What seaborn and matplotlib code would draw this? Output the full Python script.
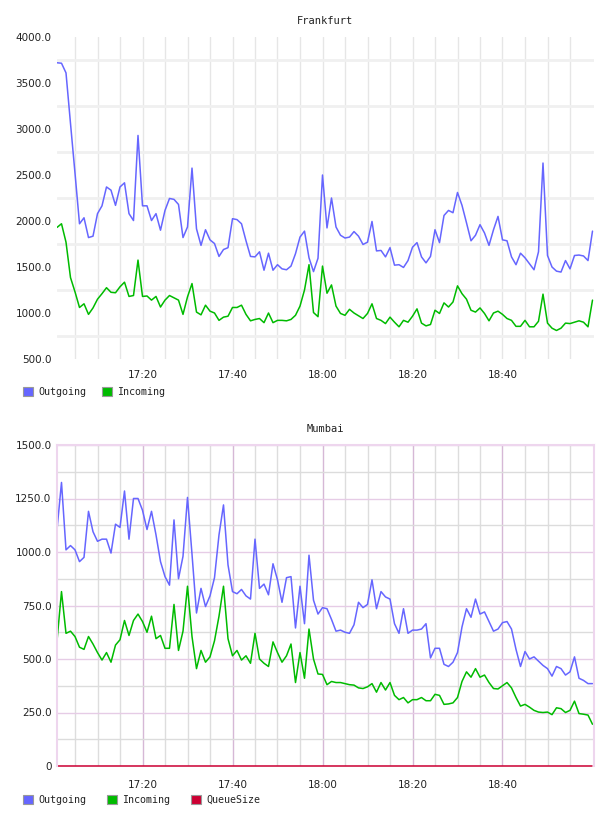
import pandas as pd
import matplotlib
matplotlib.use("Agg")
import matplotlib.pyplot as plt
import matplotlib.dates as mdates
from matplotlib.patches import Patch
from matplotlib.ticker import FixedLocator
import seaborn as sns

# 1. DATA (one sample per minute, 17:01 -> 19:00)
minutes = pd.date_range("2014-01-01 17:01", periods=120, freq="min")

frankfurt_outgoing = [
    3720, 3715, 3610, 3060, 2520, 1970, 2035, 1820, 1835, 2080,
    2165, 2370, 2335, 2170, 2370, 2415, 2080, 2005, 2930, 2165,
    2165, 2005, 2080, 1900, 2115, 2245, 2235, 2180, 1820, 1935,
    2575, 1915, 1735, 1905, 1795, 1755, 1615, 1690, 1710, 2025,
    2015, 1970, 1785, 1615, 1610, 1665, 1465, 1650, 1465, 1525,
    1480, 1470, 1510, 1645, 1825, 1890, 1600, 1450, 1595, 2500,
    1925, 2250, 1935, 1845, 1815, 1825, 1885, 1835, 1745, 1770,
    1995, 1675, 1680, 1610, 1710, 1520, 1525, 1495, 1570, 1715,
    1765, 1610, 1545, 1615, 1905, 1765, 2060, 2115, 2090, 2310,
    2170, 1980, 1785, 1845, 1960, 1870, 1735, 1905, 2050, 1795,
    1785, 1610, 1525, 1650, 1600, 1535, 1470, 1665, 2630, 1625,
    1500, 1455, 1445, 1570, 1480, 1625, 1630, 1620, 1570, 1890,
]
frankfurt_incoming = [
    1930, 1970, 1770, 1385, 1230, 1060, 1100, 985, 1055, 1150,
    1210, 1275, 1225, 1220, 1285, 1335, 1180, 1190, 1575, 1180,
    1185, 1140, 1180, 1065, 1140, 1190, 1165, 1140, 985, 1175,
    1320, 1010, 980, 1085, 1020, 1000, 920, 955, 965, 1060,
    1060, 1085, 985, 915, 930, 940, 895, 1000, 895, 920,
    920, 915, 930, 975, 1075, 1250, 1525, 1005, 960, 1510,
    1215, 1305, 1075, 995, 975, 1040, 1000, 970, 940, 995,
    1100, 940, 920, 885, 955, 900, 850, 920, 900, 965,
    1045, 890, 860, 875, 1030, 995, 1110, 1065, 1120, 1295,
    1210, 1150, 1030, 1010, 1055, 995, 915, 1000, 1020, 985,
    940, 920, 855, 855, 920, 850, 850, 910, 1205, 890,
    835, 810, 835, 890, 885, 900, 915, 900, 850, 1140,
]
mumbai_outgoing = [
    1105, 1325, 1010, 1030, 1010, 955, 975, 1190, 1095, 1050,
    1060, 1060, 995, 1130, 1115, 1285, 1060, 1250, 1250, 1195,
    1105, 1190, 1080, 955, 885, 845, 1150, 875, 980, 1255,
    990, 715, 830, 745, 795, 880, 1080, 1220, 940, 815,
    805, 825, 795, 780, 1060, 830, 850, 800, 945, 870,
    765, 880, 885, 645, 840, 665, 985, 775, 710, 740,
    735, 685, 630, 635, 625, 620, 660, 765, 740, 755,
    870, 735, 815, 790, 780, 665, 620, 735, 620, 635,
    635, 640, 665, 505, 550, 550, 475, 465, 485, 530,
    650, 735, 695, 780, 710, 720, 675, 630, 640, 670,
    675, 640, 545, 465, 535, 500, 510, 490, 470, 455,
    420, 465, 455, 425, 440, 510, 410, 400, 385, 385,
]
mumbai_incoming = [
    585, 815, 620, 630, 605, 555, 545, 605, 570, 530,
    495, 530, 485, 565, 590, 680, 610, 680, 710, 675,
    625, 700, 595, 610, 550, 550, 755, 540, 630, 840,
    605, 455, 540, 485, 510, 585, 700, 840, 595, 515,
    540, 495, 515, 480, 620, 500, 480, 465, 580, 530,
    485, 515, 570, 390, 530, 410, 640, 500, 430, 428,
    380, 395, 390, 390, 385, 380, 378, 365, 362, 370,
    385, 345, 390, 355, 390, 330, 310, 320, 295, 310,
    310, 320, 305, 305, 335, 330, 288, 290, 295, 320,
    395, 440, 415, 455, 415, 425, 390, 362, 360, 375,
    390, 365, 320, 280, 288, 275, 260, 252, 250, 252,
    240, 272, 268, 250, 260, 303, 245, 242, 238, 195,
]
mumbai_queuesize = [0] * 120

time_ticks = pd.to_datetime(["2014-01-01 17:20", "2014-01-01 17:40", "2014-01-01 18:00",
                             "2014-01-01 18:20", "2014-01-01 18:40"])
time_grid = pd.date_range("2014-01-01 17:05", "2014-01-01 18:55", freq="5min")
frankfurt_yticks = [500, 1000, 1500, 2000, 2500, 3000, 3500, 4000]
frankfurt_ygrid = [750, 1250, 1750, 2250, 2750, 3250, 3750]
mumbai_yticks = [0, 250, 500, 750, 1000, 1250, 1500]
mumbai_ygrid_minor = [125, 375, 625, 875, 1125, 1375]

series_colors = {"Outgoing": "#6666ff", "Incoming": "#00bb00", "QueueSize": "#cc0033"}

sns.set_style("white")
plt.rcParams["font.family"] = ["DejaVu Sans"]
MONO = "DejaVu Sans Mono"
TXT = "#222222"


def tick_label(v):
    return "0" if v == 0 else f"{v:.1f}"


def dibujar_panel(ax, datos, titulo, yticks, ylim):
    df = pd.DataFrame({"time": minutes, **datos})
    largo = df.melt(id_vars="time", var_name="series", value_name="value")
    orden = list(datos.keys())
    sns.lineplot(data=largo, x="time", y="value", hue="series", hue_order=orden,
                 palette=series_colors, legend=False, estimator=None,
                 linewidth=1.1, ax=ax)
    ax.set_xlim(minutes[0], minutes[-1] + pd.Timedelta(seconds=20))
    ax.set_ylim(*ylim)
    ax.set_xlabel("")
    ax.set_ylabel("")
    ax.set_xticks(time_ticks)
    ax.xaxis.set_major_formatter(mdates.DateFormatter("%H:%M"))
    ax.xaxis.set_minor_locator(FixedLocator(mdates.date2num(time_grid)))
    ax.set_yticks(yticks)
    ax.set_yticklabels([tick_label(v) for v in yticks])
    ax.tick_params(which="both", length=0, labelsize=7.5, labelcolor=TXT)
    ax.tick_params(axis="y", pad=4)
    ax.set_title(titulo, fontfamily=MONO, fontsize=7.5, color=TXT, pad=9)
    return orden


def dibujar_leyenda(fig, nombres, y_px, espacio):
    handles = [Patch(facecolor=series_colors[n], edgecolor="#999999", linewidth=0.8)
               for n in nombres]
    fig.legend(handles, nombres, loc="center left",
               bbox_to_anchor=(23 / 608, 1 - y_px / 816), ncol=len(nombres),
               frameon=False, prop={"family": MONO, "size": 7.2},
               handlelength=1.0, handleheight=1.0, handletextpad=0.5,
               columnspacing=espacio, borderpad=0, borderaxespad=0, labelcolor=TXT)


fig = plt.figure(figsize=(6.08, 8.16), dpi=100)

# 2. FRANKFURT
ax1 = fig.add_axes([57 / 608, 1 - 359 / 816, 537 / 608, 322 / 816])
nombres1 = dibujar_panel(ax1, {"Outgoing": frankfurt_outgoing, "Incoming": frankfurt_incoming},
                         "Frankfurt", frankfurt_yticks, (500, 4000))
ax1.yaxis.set_minor_locator(FixedLocator(frankfurt_ygrid))
ax1.grid(False)
ax1.grid(which="both", axis="x", color="#e6e6e6", linewidth=1)
ax1.grid(which="minor", axis="y", color="#f0f0f0", linewidth=2)
ax1.tick_params(axis="x", pad=8)
ax1.set_axisbelow(True)
for s in ax1.spines.values():
    s.set_visible(False)
dibujar_leyenda(fig, nombres1, 392, 1.6)

# 3. MUMBAI
ax2 = fig.add_axes([57 / 608, 1 - 766 / 816, 537 / 608, 321 / 816])
nombres2 = dibujar_panel(ax2, {"Outgoing": mumbai_outgoing, "Incoming": mumbai_incoming,
                               "QueueSize": mumbai_queuesize},
                         "Mumbai", mumbai_yticks, (0, 1500))
ax2.yaxis.set_minor_locator(FixedLocator(mumbai_ygrid_minor))
ax2.grid(False)
ax2.grid(which="major", axis="y", color="#e6cce6", linewidth=1)
ax2.grid(which="minor", axis="y", color="#dcdcdc", linewidth=1)
ax2.grid(which="major", axis="x", color="#d6b8d6", linewidth=1)
ax2.grid(which="minor", axis="x", color="#dddddd", linewidth=1)
ax2.tick_params(axis="x", pad=10)
ax2.set_axisbelow(True)
for line in ax2.get_lines():
    line.set_clip_on(False)
for lado in ["left", "top", "right"]:
    ax2.spines[lado].set_color("#eed6ee")
    ax2.spines[lado].set_linewidth(1.5)
ax2.spines["bottom"].set_visible(False)
dibujar_leyenda(fig, nombres2, 800, 2.1)

fig.savefig("out.png", dpi=100)
plt.close(fig)
